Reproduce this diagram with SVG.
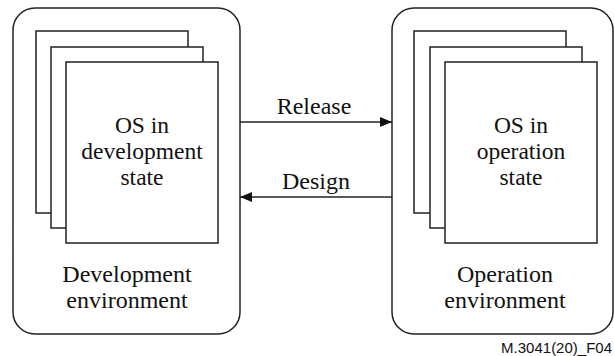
<svg xmlns="http://www.w3.org/2000/svg" width="614" height="356" viewBox="0 0 614 356">
<style>
.box{fill:#fff;stroke:#222;stroke-width:1.5}
.pg{fill:#fff;stroke:#222;stroke-width:1.5}
.t{font-family:'Liberation Serif','Times New Roman',serif;font-size:24px;fill:#111;text-anchor:middle}
.ti{font-family:'Liberation Serif','Times New Roman',serif;font-size:23.5px;fill:#111;text-anchor:middle}
.c{stroke:#222;stroke-width:1.5;fill:none}
.cap{font-family:'Liberation Sans',Arial,sans-serif;font-size:15px;fill:#111;text-anchor:end}
</style>
<defs>
<marker id="ah" viewBox="0 0 12 10" refX="12" refY="5" markerWidth="12" markerHeight="10" markerUnits="userSpaceOnUse" orient="auto">
<path d="M0,0 L12,5 L0,10 z" fill="#111"/>
</marker>
</defs>
<rect width="614" height="356" fill="#fff"/>
<g id="dev-env">
<rect class="box" x="13" y="8" width="227" height="326" rx="22"/>
<rect class="pg" x="36" y="31" width="152" height="182"/>
<rect class="pg" x="51" y="47" width="152" height="181"/>
<rect class="pg" x="66" y="62" width="152" height="181"/>
<text class="ti" x="142" y="133">OS in</text>
<text class="ti" x="142" y="159">development</text>
<text class="ti" x="142" y="185">state</text>
<text class="t" x="127" y="282">Development</text>
<text class="t" x="127" y="308">environment</text>
</g>
<g id="op-env">
<rect class="box" x="392" y="8" width="221" height="326" rx="22"/>
<rect class="pg" x="414" y="31" width="152" height="182"/>
<rect class="pg" x="430" y="47" width="152" height="181"/>
<rect class="pg" x="445" y="62" width="152" height="181"/>
<text class="ti" x="521" y="133">OS in</text>
<text class="ti" x="521" y="159">operation</text>
<text class="ti" x="521" y="185">state</text>
<text class="t" x="505" y="282">Operation</text>
<text class="t" x="505" y="308">environment</text>
</g>
<g id="connectors">
<line class="c" x1="240" y1="122" x2="392" y2="122" marker-end="url(#ah)"/>
<text class="t" x="314" y="114">Release</text>
<line class="c" x1="392" y1="197" x2="240" y2="197" marker-end="url(#ah)"/>
<text class="t" x="316" y="189">Design</text>
</g>
<text class="cap" x="612" y="353">M.3041(20)_F04</text>
</svg>
